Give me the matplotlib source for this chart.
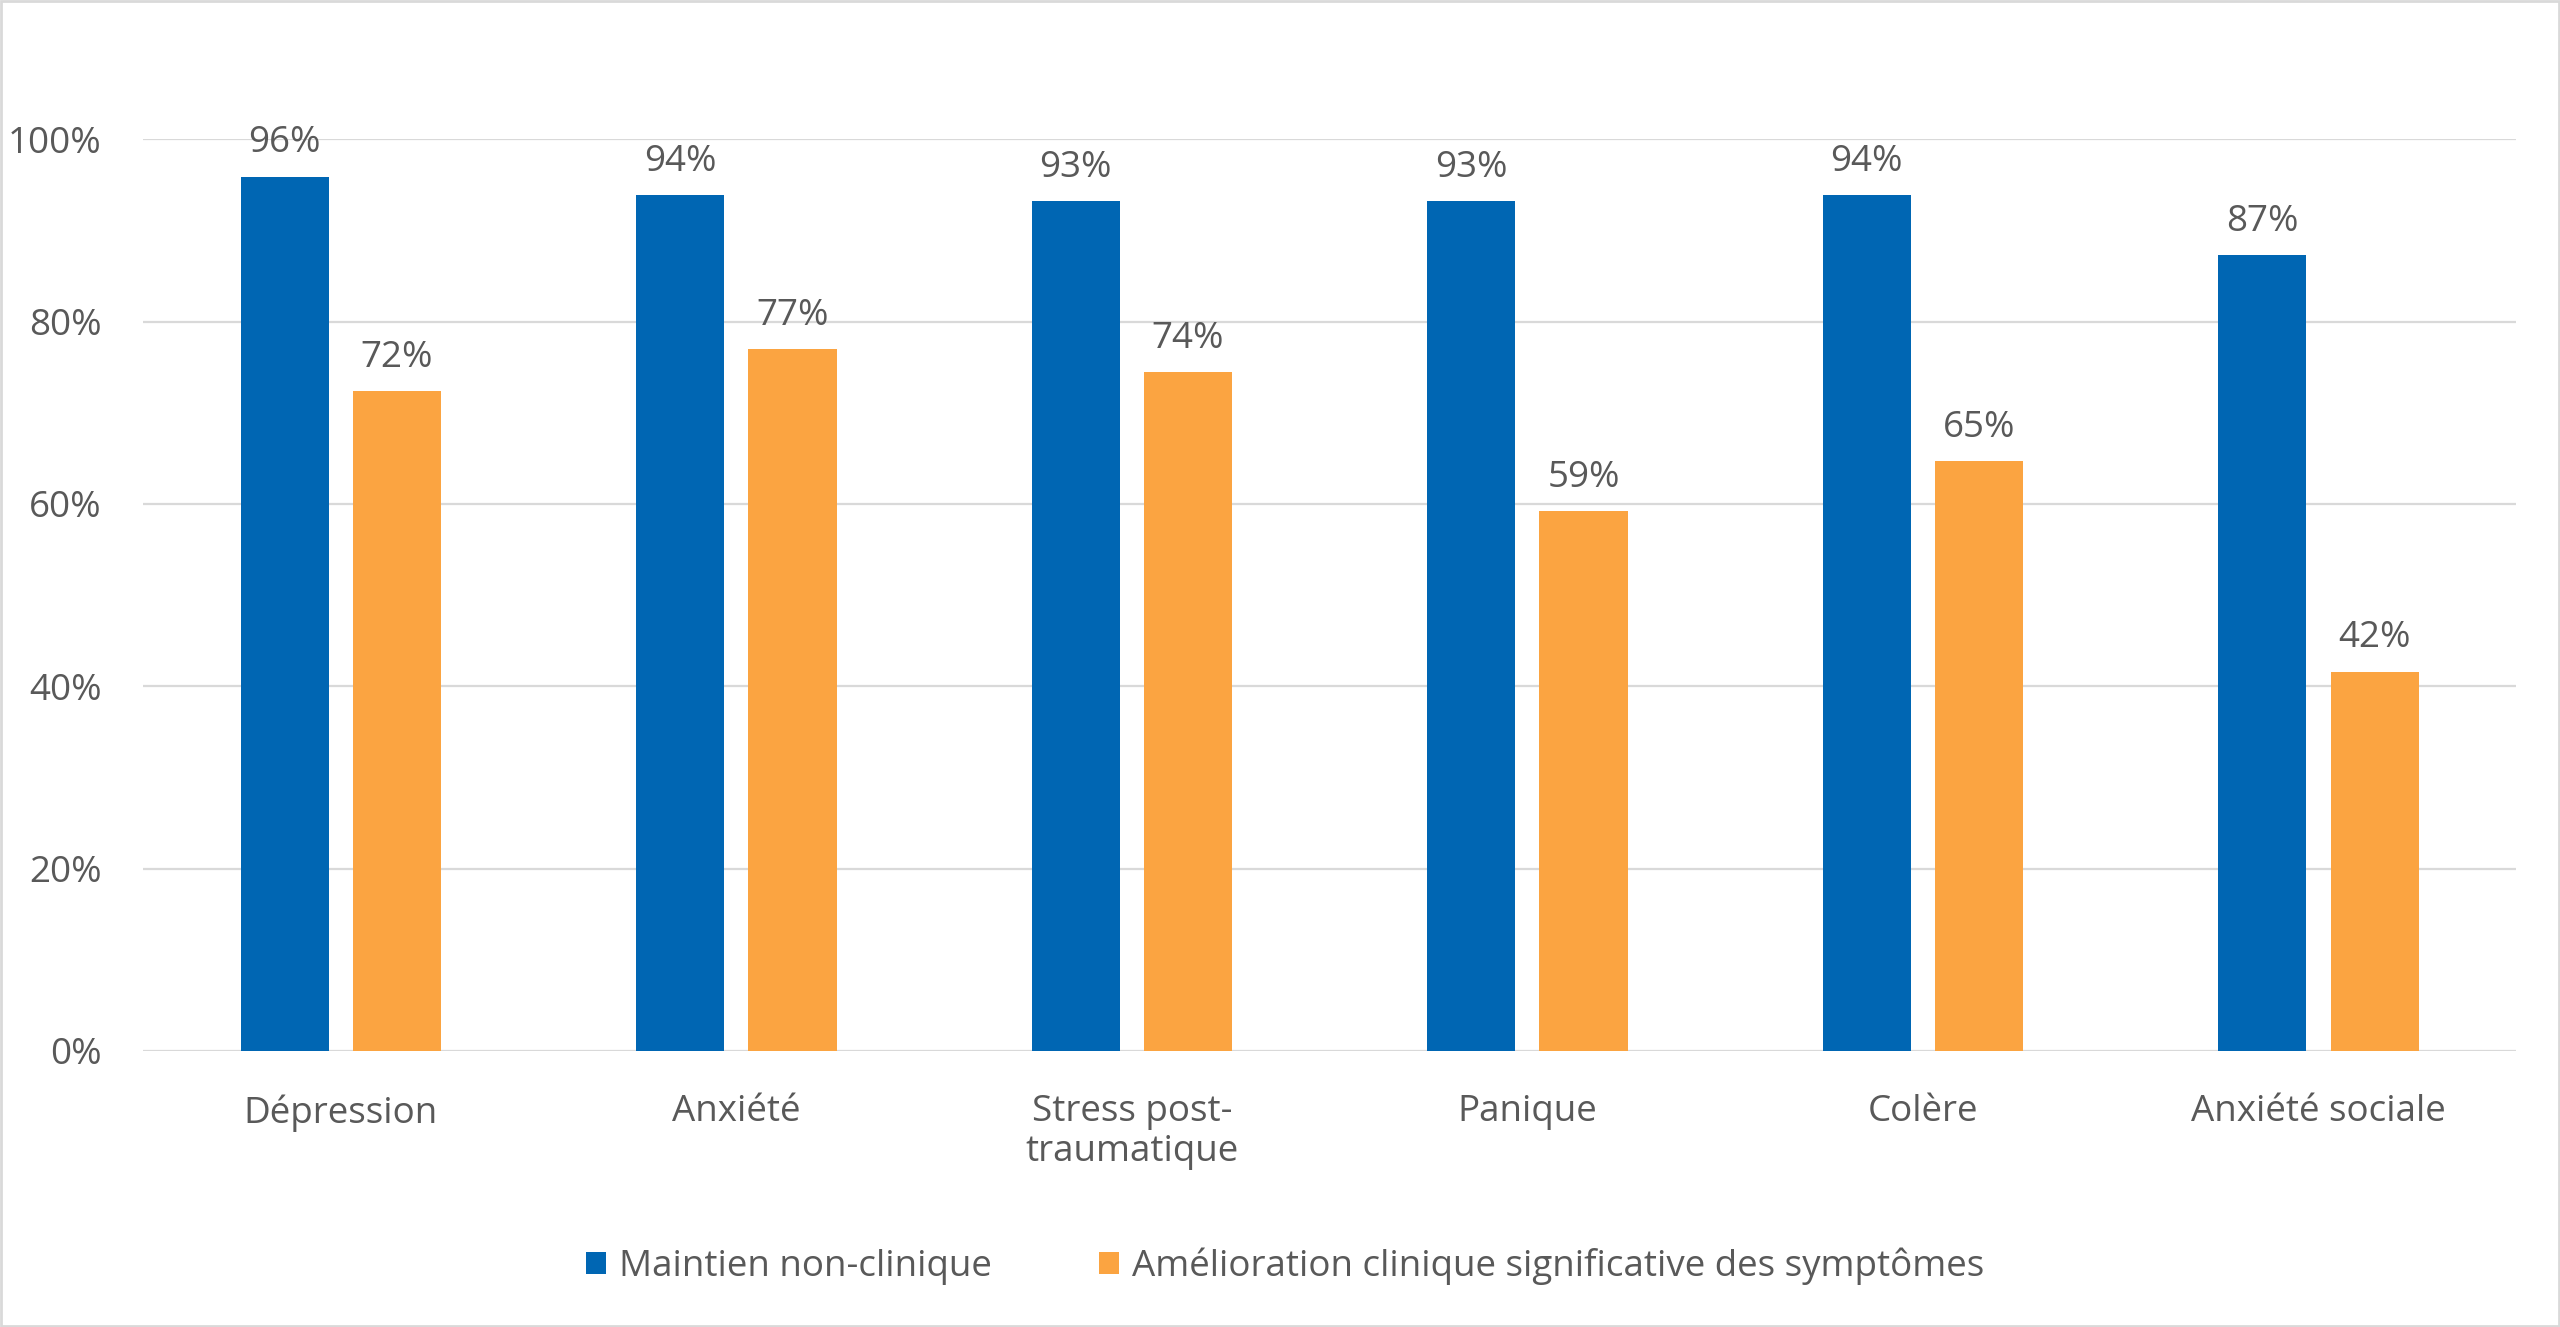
import matplotlib
matplotlib.use("Agg")
import matplotlib.pyplot as plt
import numpy as np
from matplotlib.patches import Rectangle

categories = ["Dépression", "Anxiété", "Stress post-\ntraumatique", "Panique", "Colère", "Anxiété sociale"]
maintien = [95.9, 93.9, 93.2, 93.2, 93.9, 87.3]
amelioration = [72.4, 77.0, 74.5, 59.2, 64.7, 41.6]
series_names = ["Maintien non-clinique", "Amélioration clinique significative des symptômes"]

blue = "#0066b3"
orange = "#fba441"
grey_text = "#595959"
grid_col = "#d9d9d9"
fs = 26.5

plt.rcParams['font.family'] = ['Open Sans', 'DejaVu Sans']

fig = plt.figure(figsize=(25.6, 13.27), dpi=100)
ax = fig.add_axes([0.0559, 0.208, 0.927, 0.687])

x = np.arange(len(categories))
w = 0.223
off = 0.142
b1 = ax.bar(x - off, maintien, w, color=blue, label=series_names[0], zorder=3)
b2 = ax.bar(x + off, amelioration, w, color=orange, label=series_names[1], zorder=3)

for bars in (b1, b2):
    for r in bars:
        h = r.get_height()
        ax.annotate(f"{h:.0f}%", (r.get_x() + r.get_width() / 2, h),
                    xytext=(0, 11), textcoords="offset points",
                    ha="center", va="bottom", fontsize=fs, color=grey_text,
                    annotation_clip=False)

ax.set_xlim(-0.5, len(categories) - 0.5)
ax.set_ylim(0, 100)
ax.set_yticks(range(0, 101, 20))
ax.set_yticklabels([f"{t}%" for t in range(0, 101, 20)])
ax.set_xticks(x)
ax.set_xticklabels(categories, linespacing=1.15)
ax.tick_params(axis="y", length=0, pad=30, labelsize=fs, labelcolor=grey_text)
ax.tick_params(axis="x", length=0, pad=31, labelsize=fs, labelcolor=grey_text)
ax.yaxis.grid(True, color=grid_col, linewidth=1.6, zorder=0)
for s in ax.spines.values():
    s.set_visible(False)

leg = fig.legend(loc="center", bbox_to_anchor=(0.502, 0.046), ncol=2, frameon=False,
                 fontsize=fs, handlelength=0.55, handleheight=0.55, handletextpad=0.35,
                 columnspacing=2.9)
for t in leg.get_texts():
    t.set_color(grey_text)

fig.patches.append(Rectangle((0.0005, 0.0008), 0.999, 0.9984, transform=fig.transFigure,
                             fill=False, edgecolor=grid_col, linewidth=2))

fig.savefig("out.png", dpi=100, facecolor="white")
